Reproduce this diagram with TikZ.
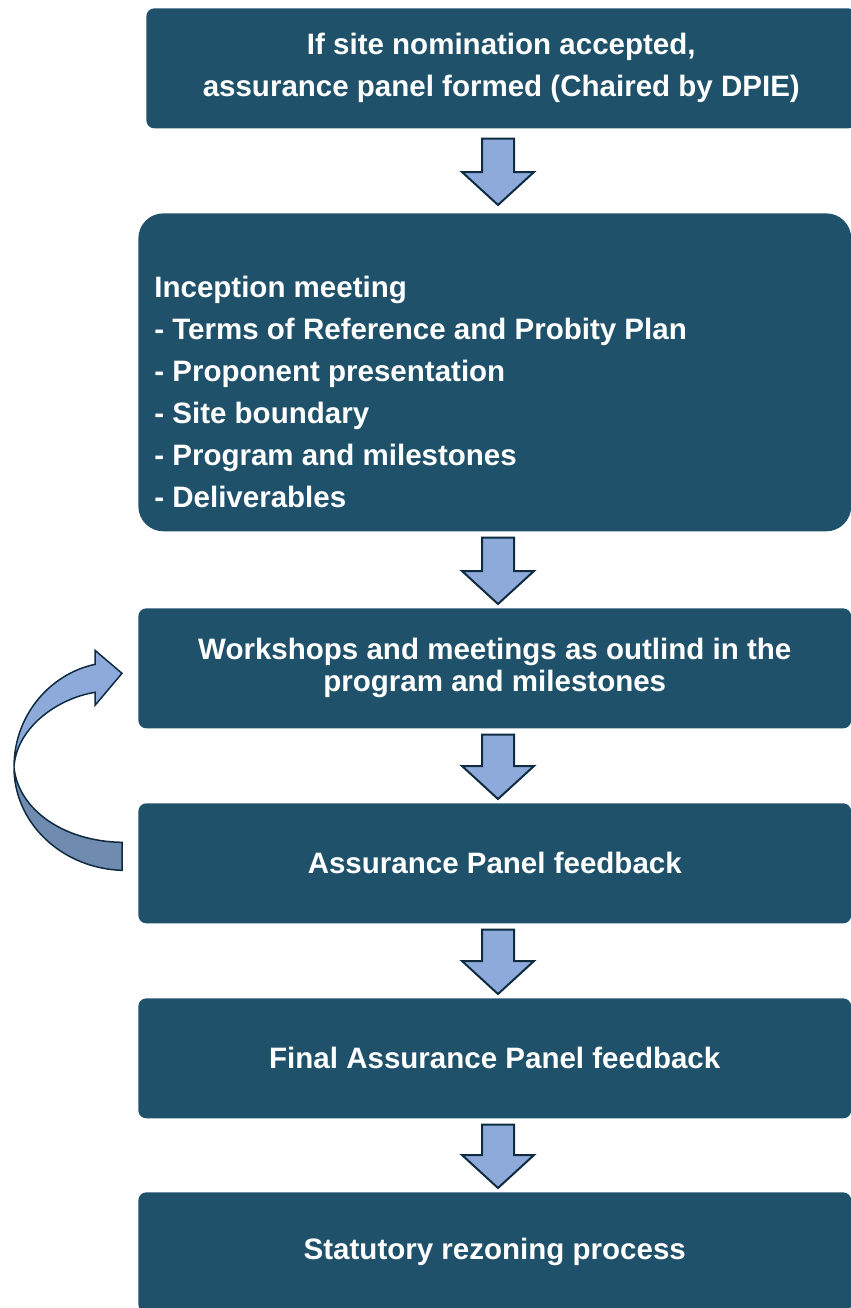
\documentclass[tikz,border=0pt]{standalone}
\usepackage{fontspec}
\setmainfont{Liberation Sans}
\usetikzlibrary{calc}

\definecolor{panelblue}{HTML}{1F516A}
\definecolor{arrowfill}{HTML}{8EAADB}
\definecolor{arrowback}{HTML}{6F8BB0}
\definecolor{arrowline}{HTML}{0F2B40}

\tikzset{
  panel/.style={fill=panelblue, rounded corners=0.16cm, text=white, anchor=north west,
    inner sep=0pt, align=center, font=\fontsize{16.8}{23.9}\selectfont\bfseries},
  blockarrow/.style={fill=arrowfill, draw=arrowline, line width=0.04cm, line join=miter},
  looparrow/.style={draw=arrowline, line width=0.03cm, line join=miter},
}

\begin{document}
\begin{tikzpicture}[x=0.02cm, y=-0.02cm]
    \useasboundingbox (0,0) rectangle (851,1308);
    \clip (0,0) rectangle (851,1308);

    % steps
    \node[panel, minimum width=14.2cm, minimum height=2.4cm] (nominate) at (146,8)
      {If site nomination accepted,\\ assurance panel formed (Chaired by DPIE)};
    \node[panel, rounded corners=0.5cm, minimum width=14.26cm, minimum height=6.36cm] (inception) at (138,213) {};
    \node[anchor=north west, inner sep=0pt, text=white, align=left,
      font=\fontsize{16.8}{23.9}\selectfont\bfseries] (inception-text) at (154,276)
      {Inception meeting\\
       - Terms of Reference and Probity Plan\\
       - Proponent presentation\\
       - Site boundary\\
       - Program and milestones\\
       - Deliverables};
    \node[panel, minimum width=14.26cm, minimum height=2.4cm,
      font=\fontsize{16.8}{18.2}\selectfont\bfseries] (workshops) at (138,608)
      {Workshops and meetings as outlind in the\\program and milestones};
    \node[panel, minimum width=14.26cm, minimum height=2.4cm] (feedback) at (138,803) {Assurance Panel feedback};
    \node[panel, minimum width=14.26cm, minimum height=2.4cm] (final) at (138,998) {Final Assurance Panel feedback};
    \node[panel, minimum width=14.26cm, minimum height=2.4cm] (statutory) at (138,1192) {Statutory rezoning process};

    % block arrows between steps
    \coordinate (axis) at (498,0);
    \foreach \from/\to/\gapa/\gapb in {nominate/inception/10/8, inception/workshops/6/4,
        workshops/feedback/6/4, feedback/final/6/4, final/statutory/6/4}{
      \coordinate (tail) at ($(\from.south)+(0,\gapa)$);
      \coordinate (tip) at ($(\to.north)+(0,-\gapb)$);
      \draw[blockarrow] ($(tail -| axis)+(-16,0)$) -- ($(tip -| axis)+(-16,-33)$) -- ++(-20,0)
        -- (tip -| axis) -- ($(tip -| axis)+(36,-33)$) -- ++(-20,0) -- ($(tail -| axis)+(16,0)$) -- cycle;
    }

    % loop back from feedback to workshops
    \coordinate (loop-tip) at ($(workshops.west)+(-16,5)$);
    \begin{scope}[shift={(loop-tip)}]
      \draw[looparrow, fill=arrowback] (0,169) .. controls (-60,168) and (-104,135) .. (-108,94)
        .. controls (-108,150) and (-60,195) .. (0,197) -- cycle;
      \draw[looparrow, fill=arrowfill] (-27,-9) .. controls (-70,0) and (-108,40) .. (-108,94)
        .. controls (-106,55) and (-65,25) .. (-27,19) -- (-27,32) -- (0,0) -- (-27,-23) -- cycle;
    \end{scope}
\end{tikzpicture}
\end{document}
